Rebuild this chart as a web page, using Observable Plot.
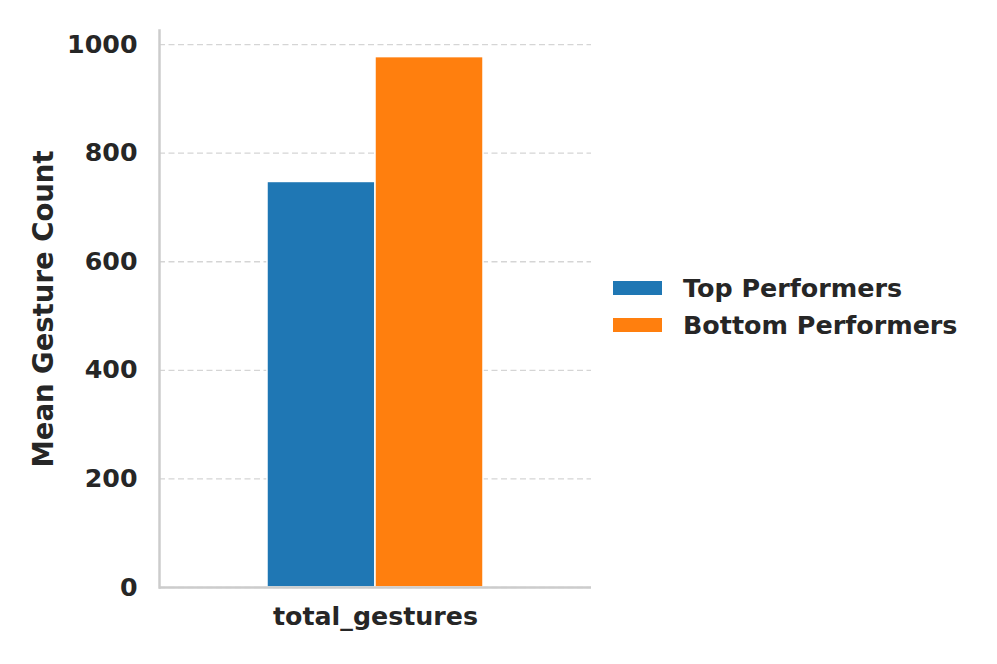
<!DOCTYPE html>
<html><head><meta charset="utf-8">
<script src="https://cdn.jsdelivr.net/npm/d3@7"></script>
<script src="https://cdn.jsdelivr.net/npm/@observablehq/plot@0.6"></script>
<style>
body{margin:0;background:#fff;font-family:"DejaVu Sans",sans-serif;}
#wrap{position:relative;width:997px;height:664px}
#legend{position:absolute;left:613px;top:269.5px;}
.row{display:flex;align-items:center;height:37px}
.sw{width:49px;height:14px;margin-right:21px}
.lb{font-size:25.4px;font-weight:bold;color:#262626;font-family:"DejaVu Sans",sans-serif;white-space:nowrap}
</style></head><body><div id="wrap"></div>
<script>
const categories = ["total_gestures"];
const groups = ["Top Performers", "Bottom Performers"];
const values = [747, 977];
const colors = ["#1f77b4", "#ff7f0e"];
const yTicks = [0, 200, 400, 600, 800, 1000];
const yLabel = "Mean Gesture Count";

const data = groups.map((g, i) => ({category: categories[0], group: g, value: values[i]}));

const plot = Plot.plot({
  width: 997, height: 664,
  marginLeft: 159, marginRight: 406, marginTop: 30, marginBottom: 77,
  style: {fontFamily: "DejaVu Sans", fontWeight: "bold", color: "#262626", background: "#fff", overflow: "visible"},
  x: {domain: groups, paddingInner: 0, paddingOuter: 1, axis: null},
  y: {domain: [0, 1026]},
  color: {domain: groups, range: colors},
  marks: [
    Plot.gridY(yTicks, {stroke: "#d5d5d5", strokeOpacity: 1, strokeDasharray: "6,3.5", strokeWidth: 1.3}),
    Plot.barY(data, {x: "group", y: "value", fill: "group", stroke: "white", strokeWidth: 1.5}),
    Plot.axisY(yTicks, {tickSize: 0, tickPadding: 22, fontSize: 25.3, fill: "#262626",
      tickFormat: d3.format("d"),
      label: yLabel, labelAnchor: "center", labelArrow: "none", labelOffset: 126}),
    Plot.frame({anchor: "left", stroke: "#cccccc", strokeWidth: 2.5}),
    Plot.ruleY([0], {stroke: "#cccccc", strokeWidth: 2.5}),
    Plot.text(categories, {frameAnchor: "bottom", text: d => d, lineAnchor: "top", dy: 20,
      fontSize: 25.3, fontWeight: "bold", fill: "#262626"})
  ]
});
d3.select(plot).selectAll('g[aria-label="y-axis label"] text').style("font-size", "27.5px");
const wrap = document.getElementById("wrap");
wrap.appendChild(plot);

const legend = d3.select(wrap).append("div").attr("id", "legend");
const rows = legend.selectAll(".row").data(groups).join("div").attr("class", "row");
rows.append("div").attr("class", "sw").style("background", (d, i) => colors[i]);
rows.append("div").attr("class", "lb").text(d => d);
</script></body></html>
